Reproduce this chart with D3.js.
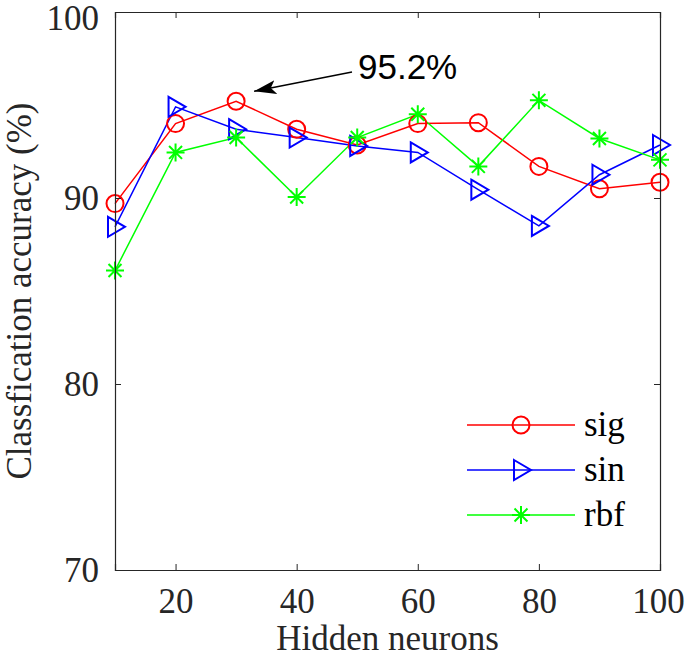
<!DOCTYPE html>
<html><head><meta charset="utf-8">
<script src="https://cdn.jsdelivr.net/npm/d3@7"></script>
<style>body{margin:0;background:#fff;}</style>
</head><body>
<script>
const neurons = [10,20,30,40,50,60,70,80,90,100];
const sigValues = [89.7,94.0,95.2,93.7,92.85,94.0,94.05,91.7,90.5,90.85];
const sinValues = [88.45,94.9,93.7,93.25,92.8,92.45,90.45,88.5,91.25,92.85];
const rbfValues = [86.1,92.45,93.25,90.05,93.25,94.5,91.7,95.25,93.2,92.05];
const xTicks = [20,40,60,80,100];
const yTicks = [70,80,90,100];
const seriesNames = ["sig","sin","rbf"];
const seriesColors = ["#ff0000","#0000ff","#00ff00"];
const annotationText = "95.2%";

(function(){
const W=685,H=658;
const m={l:115,r:660,t:12,b:570};
const svg=d3.select("body").append("svg").attr("width",W).attr("height",H);
const x=d3.scaleLinear().domain([10,100]).range([m.l,m.r]);
const y=d3.scaleLinear().domain([70,100]).range([m.b,m.t]);
const axisColor="#262626";
const serif="'Liberation Serif','Times New Roman',serif";
const fs="35px";

const series=[sigValues,sinValues,rbfValues].map((v,i)=>({name:seriesNames[i],color:seriesColors[i],values:v}));

function marker(g,type,color){
  if(type===0){
    g.append("circle").attr("r",8.5).attr("fill","none").attr("stroke",color).attr("stroke-width",2);
  } else if(type===1){
    g.append("path").attr("d","M-7,-10 L10,0 L-7,10 Z").attr("fill","none").attr("stroke",color).attr("stroke-width",2);
  } else {
    const s=9;
    g.append("path").attr("d",`M0,${-s}V${s}M${-s},0H${s}M${-s*0.72},${-s*0.72}L${s*0.72},${s*0.72}M${-s*0.72},${s*0.72}L${s*0.72},${-s*0.72}`).attr("stroke",color).attr("stroke-width",2);
  }
}

const line=d3.line().x((d,i)=>x(neurons[i])).y(d=>y(d));
series.forEach((s,k)=>{
  svg.append("path").attr("d",line(s.values)).attr("fill","none").attr("stroke",s.color).attr("stroke-width",1.5);
});
series.forEach((s,k)=>{
  s.values.forEach((v,i)=>{
    const g=svg.append("g").attr("transform",`translate(${x(neurons[i])},${y(v)})`);
    marker(g,k,s.color);
  });
});

const tickLen=6;
const axB=d3.axisBottom(x).tickValues(xTicks).tickSize(-tickLen).tickPadding(18);
const gx=svg.append("g").attr("transform",`translate(0,${m.b})`).call(axB);
const axT=d3.axisTop(x).tickValues(xTicks).tickSize(-tickLen).tickFormat("");
const gxt=svg.append("g").attr("transform",`translate(0,${m.t})`).call(axT);
const axL=d3.axisLeft(y).tickValues(yTicks).tickSize(-tickLen).tickPadding(16);
const gy=svg.append("g").attr("transform",`translate(${m.l},0)`).call(axL);
const axR=d3.axisRight(y).tickValues(yTicks).tickSize(-tickLen).tickFormat("");
const gyr=svg.append("g").attr("transform",`translate(${m.r},0)`).call(axR);
[gx,gxt,gy,gyr].forEach(g=>{
  g.select(".domain").attr("stroke",axisColor).attr("stroke-width",1.2);
  g.selectAll(".tick line").attr("stroke",axisColor).attr("stroke-width",1);
  g.selectAll("text").attr("fill","#262626").style("font-family",serif).style("font-size",fs);
});
gx.selectAll("text").attr("dy","0.71em").attr("dx",d=>d===100?-2:0);
gy.selectAll("text").attr("dy",d=>d===100?"0.5em":"0.34em");

svg.append("text").attr("x",(m.l+m.r)/2).attr("y",650).attr("text-anchor","middle")
  .style("font-family",serif).style("font-size",fs).attr("fill","#262626").text("Hidden neurons");
svg.append("text").attr("transform",`translate(31,${(m.t+m.b)/2}) rotate(-90)`).attr("text-anchor","middle")
  .style("font-family",serif).style("font-size",fs).attr("fill","#262626").text("Classfication accuracy (%)");

const defs=svg.append("defs");
defs.append("marker").attr("id","ah").attr("viewBox","0 0 22 14").attr("refX",22).attr("refY",7)
  .attr("markerWidth",22).attr("markerHeight",14).attr("markerUnits","userSpaceOnUse").attr("orient","auto")
  .append("path").attr("d","M0,0 L22,7 L0,14 L5,7 Z").attr("fill","#000");
svg.append("line").attr("x1",352).attr("y1",72).attr("x2",x(30)+18).attr("y2",y(95.2)-10)
  .attr("stroke","#000").attr("stroke-width",1.5).attr("marker-end","url(#ah)");
svg.append("text").attr("x",358).attr("y",79).style("font-family","'Liberation Sans',Arial,sans-serif")
  .style("font-size",fs).attr("fill","#000").text(annotationText);

series.forEach((s,k)=>{
  const ly=425+k*45;
  svg.append("line").attr("x1",467).attr("x2",575).attr("y1",ly).attr("y2",ly).attr("stroke",s.color).attr("stroke-width",1.5);
  const g=svg.append("g").attr("transform",`translate(521,${ly})`);
  marker(g,k,s.color);
  svg.append("text").attr("x",584).attr("y",ly+11).style("font-family",serif).style("font-size",fs).attr("fill","#000").text(s.name);
});
})();
</script>
</body></html>
